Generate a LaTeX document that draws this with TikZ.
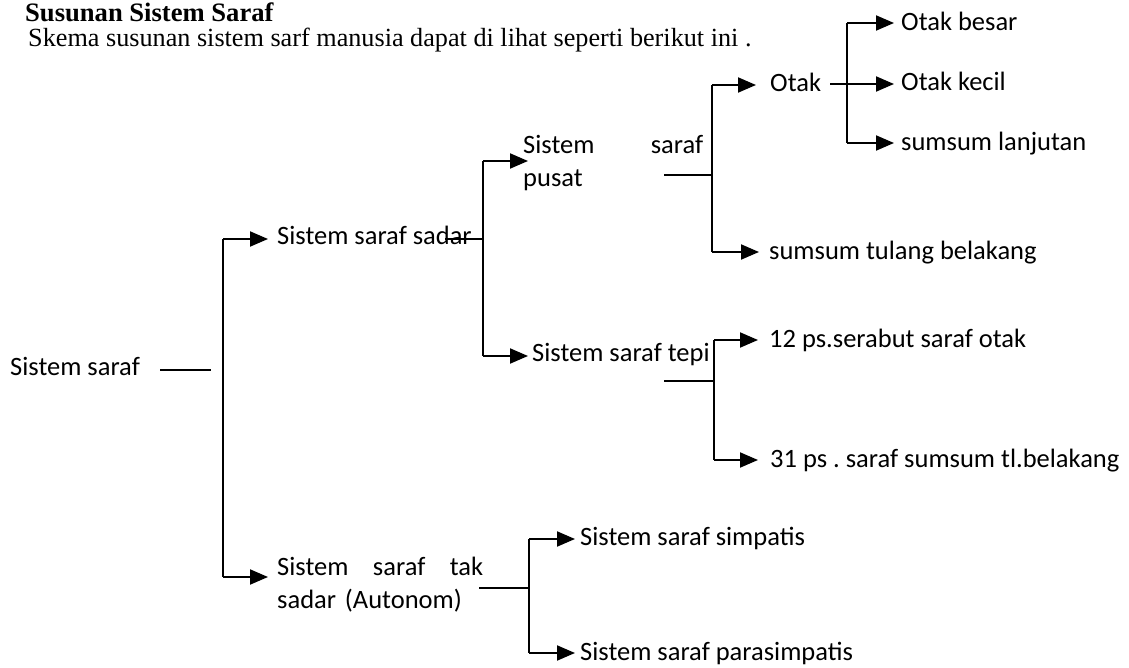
\documentclass[tikz,border=0pt]{standalone}
\usepackage{fontspec}
\setmainfont{Carlito}
\newfontfamily\seriffam{Liberation Serif}
\usetikzlibrary{arrows.meta}
\frenchspacing
\begin{document}
\begin{tikzpicture}[x=1pt,y=-1pt,
  lbl/.style={inner sep=0pt, anchor=base west, font=\fontsize{26.5}{33}\selectfont},
  twoline/.style={lbl, align=left},
  arr/.style={line width=2pt, -{Triangle[length=18pt,width=15pt]}},
  brk/.style={line width=2pt},
  stub/.style={line width=1.5pt}]
\useasboundingbox (0,0) rectangle (1129,668);

% heading
\node[lbl, font=\seriffam\bfseries\fontsize{26.6}{30}\selectfont] (title) at (25,22) {Susunan Sistem Saraf};
\node[lbl, font=\seriffam\fontsize{26.2}{30}\selectfont] (sub) at (28,47) {Skema susunan sistem sarf manusia dapat di lihat seperti berikut ini .};

% labels
\node[lbl] (root) at (10,375) {Sistem saraf};
\node[lbl] (sadar) at (277,244) {Sistem saraf sadar};
\node[twoline, text width=206pt] (tak) at (277,575) {Sistem\hfill saraf\hfill tak\\sadar (Autonom)};
\node[twoline, text width=180pt] (pusat) at (523,154) {Sistem\hfill saraf\\pusat};
\node[lbl] (tepi) at (532,361) {Sistem saraf tepi};
\node[lbl] (otak) at (770,92) {Otak};
\node[lbl] (tulang) at (769,259) {sumsum tulang belakang};
\node[lbl] (besar) at (901,31) {Otak besar};
\node[lbl] (kecil) at (901,91) {Otak kecil};
\node[lbl] (lanjut) at (901,151) {sumsum lanjutan};
\node[lbl] (ps12) at (769,347) {12 ps.serabut saraf otak};
\node[lbl] (ps31) at (770,467) {31 ps . saraf sumsum tl.belakang};
\node[lbl] (simp) at (580,545) {Sistem saraf simpatis};
\node[lbl] (para) at (580,660) {Sistem saraf parasimpatis};

% junction points
\coordinate (r1) at (160,370);
\coordinate (r2) at (211,370);
\coordinate (b1t) at (223,239);
\coordinate (b1b) at (223,577);
\coordinate (b2t) at (483,161);
\coordinate (b2m) at (483,239);
\coordinate (b2b) at (483,356);
\coordinate (b3t) at (712,85);
\coordinate (b3m) at (712,175);
\coordinate (b3b) at (712,252);
\coordinate (b4t) at (847,23);
\coordinate (b4m) at (847,84);
\coordinate (b4b) at (847,143);
\coordinate (b5t) at (714,340);
\coordinate (b5m) at (714,381);
\coordinate (b5b) at (714,460);
\coordinate (b6t) at (529,539);
\coordinate (b6m) at (529,588);
\coordinate (b6b) at (529,653);

% level 1
\draw[stub] (r1) -- (r2);
\draw[brk] (b1t) -- (b1b);
\draw[arr, shorten >=9pt] (b1t) -- (b1t -| sadar.west);
\draw[arr, shorten >=9pt] (b1b) -- (b1b -| tak.west);

% sadar
\draw[stub] (b2m) -- ++(-38,0);
\draw[brk] (b2t) -- (b2b);
\draw[arr, shorten >=-5pt] (b2t) -- (b2t -| pusat.west);
\draw[arr, shorten >=4pt] (b2b) -- (b2b -| tepi.west);

% pusat
\draw[stub] (b3m) -- ++(-48,0);
\draw[brk] (b3t) -- (b3b);
\draw[arr, shorten >=14pt] (b3t) -- (b3t -| otak.west);
\draw[arr, shorten >=10pt] (b3b) -- (b3b -| tulang.west);

% otak
\draw[stub] (b4m) -- ++(-17,0);
\draw[brk] (b4t) -- (b4b);
\draw[arr, shorten >=7pt] (b4t) -- (b4t -| besar.west);
\draw[arr, shorten >=7pt] (b4m) -- (b4m -| kecil.west);
\draw[arr, shorten >=7pt] (b4b) -- (b4b -| lanjut.west);

% tepi
\draw[stub] (b5m) -- ++(-50,0);
\draw[brk] (b5t) -- (b5b);
\draw[arr, shorten >=11pt] (b5t) -- (b5t -| ps12.west);
\draw[arr, shorten >=12pt] (b5b) -- (b5b -| ps31.west);

% tak sadar
\draw[stub] (b6m) -- ++(-50,0);
\draw[brk] (b6t) -- (b6b);
\draw[arr, shorten >=5pt] (b6t) -- (b6t -| simp.west);
\draw[arr, shorten >=5pt] (b6b) -- (b6b -| para.west);
\end{tikzpicture}
\end{document}
